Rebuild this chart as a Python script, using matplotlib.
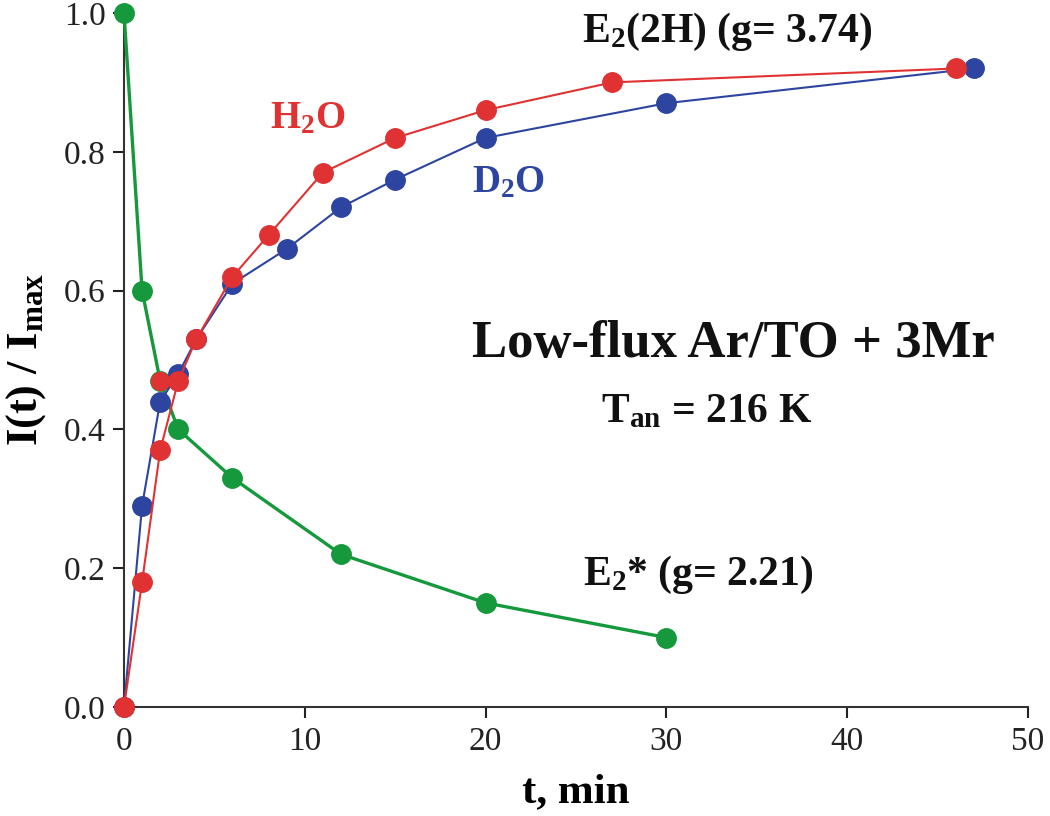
import matplotlib
matplotlib.use("Agg")
import matplotlib.pyplot as plt

plt.rcParams["font.family"] = "Liberation Serif"
plt.rcParams["mathtext.fontset"] = "custom"
plt.rcParams["mathtext.rm"] = "Liberation Serif:bold"
plt.rcParams["mathtext.it"] = "Liberation Serif:bold"
plt.rcParams["mathtext.bf"] = "Liberation Serif:bold"
plt.rcParams["mathtext.default"] = "rm"

# E2(2H) growth, H2O
t_h2o = [0, 1, 2, 3, 4, 6, 8, 11, 15, 20, 27, 46]
i_h2o = [0.0, 0.18, 0.37, 0.47, 0.53, 0.62, 0.68, 0.77, 0.82, 0.86, 0.90, 0.92]
# extra red point sitting on the green one
t_h2o_extra = [2]
i_h2o_extra = [0.47]

# E2(2H) growth, D2O
t_d2o = [0, 1, 2, 3, 4, 6, 9, 12, 15, 20, 30, 47]
i_d2o = [0.0, 0.29, 0.44, 0.48, 0.53, 0.61, 0.66, 0.72, 0.76, 0.82, 0.87, 0.92]

# E2* decay
t_e2s = [0, 1, 2, 3, 6, 12, 20, 30]
i_e2s = [1.0, 0.60, 0.47, 0.40, 0.33, 0.22, 0.15, 0.10]

red = "#e03232"
blue = "#2d45a0"
green = "#16993c"

fig = plt.figure(figsize=(10.5, 8.16), dpi=100)
ax = fig.add_axes([0.1181, 0.1336, 0.861, 0.8505])

ax.plot(t_e2s, i_e2s, color=green, lw=2.4, marker="o", ms=14, clip_on=False, zorder=3)
ax.plot(t_d2o, i_d2o, color=blue, lw=1.5, marker="o", ms=14, clip_on=False, zorder=4)
ax.plot(t_h2o, i_h2o, color=red, lw=1.5, marker="o", ms=14, clip_on=False, zorder=5)
ax.plot(t_h2o_extra, i_h2o_extra, ls="none", color=red, marker="o", ms=13, zorder=6)

ax.set_xlim(0, 50)
ax.set_ylim(0, 1.0)
ax.set_xticks([0, 10, 20, 30, 40, 50])
ax.set_yticks([0.0, 0.2, 0.4, 0.6, 0.8, 1.0])
ax.set_yticklabels(["0.0", "0.2", "0.4", "0.6", "0.8", "1.0"])

for s in ["top", "right"]:
    ax.spines[s].set_visible(False)
for s in ["left", "bottom"]:
    ax.spines[s].set_linewidth(1.5)
    ax.spines[s].set_color("#333333")

ax.tick_params(direction="out", length=8, width=1.5, colors="#222222", labelsize=24)
ax.tick_params(axis="x", pad=6)
ax.tick_params(axis="y", pad=5)

ax.set_xlabel("t, min", fontsize=31, fontweight="bold", labelpad=12)
ax.set_ylabel("I(t) / I$_{\\mathregular{max}}$", fontsize=32, fontweight="bold")
ax.yaxis.set_label_coords(-0.084, 0.5)

ax.text(0.554, 0.9485, "E$_2$(2H) (g= 3.74)", transform=fig.transFigure, fontsize=30, fontweight="bold", color="#111111")
ax.text(0.257, 0.843, "H$_2$O", transform=fig.transFigure, fontsize=28, fontweight="bold", color=red)
ax.text(0.450, 0.7647, "D$_2$O", transform=fig.transFigure, fontsize=28, fontweight="bold", color=blue)
ax.text(0.45, 0.5625, "Low-flux Ar/TO + 3Mr", transform=fig.transFigure, fontsize=38, fontweight="bold", color="#111111")
ax.text(0.572, 0.482, "T$_{\\mathregular{an}}$ = 216 K", transform=fig.transFigure, fontsize=30, fontweight="bold", color="#111111")
ax.text(0.555, 0.283, "E$_2$* (g= 2.21)", transform=fig.transFigure, fontsize=30, fontweight="bold", color="#111111")

fig.savefig("out.png", dpi=100)
